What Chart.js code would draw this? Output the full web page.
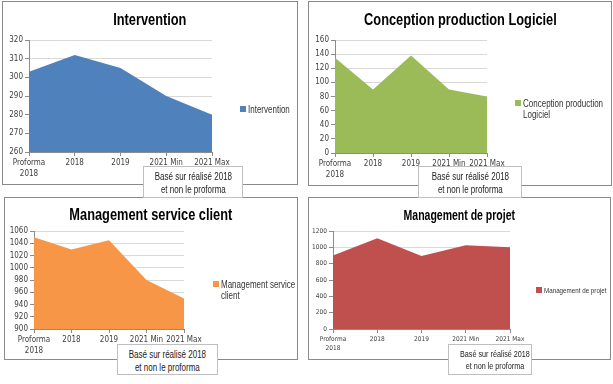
<!DOCTYPE html>
<html>
<head>
<meta charset="UTF-8">
<title>Charts</title>
<script src="https://cdn.jsdelivr.net/npm/chart.js@4/dist/chart.umd.min.js"></script>
<style>
  body {
    margin: 0;
    width: 613px;
    height: 384px;
    background: #ffffff;
    position: relative;
    overflow: hidden;
    font-family: 'Liberation Sans', Arial, sans-serif;
    color: #404040;
  }
  .panel {
    position: absolute;
    border: 1px solid #8a8a8a;
    background: #ffffff;
  }
  .panel canvas {
    position: absolute;
  }
  .title {
    position: absolute;
    left: 0;
    right: 0;
    text-align: center;
    font-weight: bold;
    color: #000000;
    white-space: nowrap;
  }
  .title span {
    display: inline-block;
    transform: scaleX(0.8);
  }
  .legend {
    position: absolute;
    font-size: 10px;
    line-height: 11px;
    color: #333333;
    white-space: nowrap;
  }
  .legend .box {
    position: absolute;
    left: 0;
    top: 2px;
    width: 6px;
    height: 6px;
  }
  .legend .txt {
    margin-left: 8px;
    transform: scaleX(0.8);
    transform-origin: left top;
  }
  .note {
    position: absolute;
    border: 1px solid #bfbfbf;
    background: #ffffff;
    font-size: 10px;
    line-height: 13px;
    text-align: center;
    color: #222222;
    padding-top: 3px;
    box-sizing: border-box;
    white-space: nowrap;
  }
  .note span {
    display: inline-block;
    transform: scaleX(0.8);
  }
</style>
</head>
<body>

<div class="panel" style="left:2px;top:1px;width:294px;height:182px;">
  <canvas id="chart1"></canvas>
  <div class="title" style="top:9px;font-size:16px;"><span>Intervention</span></div>
  <div class="legend" style="left:237px;top:102px;"><div class="box" style="background:#4F81BD"></div><div class="txt">Intervention</div></div>
</div>

<div class="panel" style="left:308px;top:1px;width:302px;height:183px;">
  <canvas id="chart2"></canvas>
  <div class="title" style="top:9px;font-size:16px;"><span>Conception production Logiciel</span></div>
  <div class="legend" style="left:206px;top:96px;"><div class="box" style="background:#9BBB59"></div><div class="txt">Conception production<br>Logiciel</div></div>
</div>

<div class="panel" style="left:4px;top:197px;width:292px;height:161px;">
  <canvas id="chart3"></canvas>
  <div class="title" style="top:8px;font-size:16px;"><span>Management service client</span></div>
  <div class="legend" style="left:208px;top:81px;"><div class="box" style="background:#F79646"></div><div class="txt">Management service<br>client</div></div>
</div>

<div class="panel" style="left:308px;top:197px;width:301px;height:161px;">
  <canvas id="chart4"></canvas>
  <div class="title" style="top:9px;font-size:14px;"><span style="transform:scaleX(0.75)">Management de projet</span></div>
  <div class="legend" style="left:227px;top:88px;font-size:8px;line-height:9px;"><div class="box" style="background:#C0504D;top:1px;"></div><div class="txt" style="transform:scaleX(0.78)">Management de projet</div></div>
</div>

<div class="note" style="left:143px;top:166px;width:100px;height:32px;"><span>Basé sur réalisé 2018<br>et non le proforma</span></div>
<div class="note" style="left:418px;top:166px;width:104px;height:32px;"><span>Basé sur réalisé 2018<br>et non le proforma</span></div>
<div class="note" style="left:117px;top:344px;width:101px;height:31px;"><span>Basé sur réalisé 2018<br>et non le proforma</span></div>
<div class="note" style="left:448px;top:344px;width:84px;height:31px;font-size:9.5px;line-height:12px;"><span style="transform:scaleX(0.76)">Basé sur réalisé 2018<br>et non le proforma</span></div>

<script>
const FONT_FAMILY = "'DejaVu Sans Condensed', 'DejaVu Sans', sans-serif";

const categories = [['Proforma', '2018'], '2018', '2019', '2021 Min', '2021 Max'];

const interventionValues = [303, 312, 305, 290, 280];
const conceptionValues = [135, 90, 138, 90, 80];
const serviceClientValues = [1050, 1030, 1045, 980, 950];
const projetValues = [900, 1110, 895, 1025, 1000];

// box: canvas place inside the panel, yw/xh = axis sizes, top/right = padding around plot
function makeChart(id, label, values, color, yMin, yMax, yStep, box, tickSize) {
  let cv = document.getElementById(id);
  cv.width = box.w;
  cv.height = box.h;
  cv.style.left = box.x + 'px';
  cv.style.top = box.y + 'px';
  cv.style.width = box.w + 'px';
  cv.style.height = box.h + 'px';
  return new Chart(cv, {
    type: 'line',
    data: {
      labels: categories,
      datasets: [{
        label: label,
        data: values,
        backgroundColor: color,
        borderWidth: 0,
        pointRadius: 0,
        fill: 'start',
        tension: 0,
      }],
    },
    options: {
      responsive: false,
      animation: false,
      devicePixelRatio: 1,
      layout: {
        padding: { left: 0, right: box.right, top: box.top, bottom: 0 }
      },
      plugins: {
        legend: { display: false },
        title: { display: false },
        tooltip: { enabled: false },
      },
      scales: {
        x: {
          offset: false,
          grid: {
            drawOnChartArea: false,
            drawTicks: true,
            tickLength: 4,
            color: '#8c8c8c',
          },
          border: { color: '#8c8c8c' },
          ticks: {
            color: '#404040',
            padding: 2,
            maxRotation: 0,
            autoSkip: false,
            font: { family: FONT_FAMILY, size: tickSize, lineHeight: 1.35 },
          },
          afterFit: function(scale) { scale.height = box.xh; },
        },
        y: {
          min: yMin,
          max: yMax,
          grid: {
            color: '#d9d9d9',
            tickColor: '#8c8c8c',
            tickLength: 4,
          },
          border: { color: '#8c8c8c' },
          ticks: {
            stepSize: yStep,
            autoSkip: false,
            color: '#404040',
            padding: 2,
            font: { family: FONT_FAMILY, size: tickSize },
            callback: function(v) { return String(v); },
          },
          afterFit: function(scale) { scale.width = box.yw; },
        },
      },
    },
  });
}

makeChart('chart1', 'Intervention', interventionValues, '#4F81BD', 260, 320, 10,
  { x: 1, y: 1, w: 292, h: 180, yw: 25, xh: 31, top: 37, right: 84 }, 8);

makeChart('chart2', 'Conception production Logiciel', conceptionValues, '#9BBB59', 0, 160, 20,
  { x: 0, y: 1, w: 301, h: 181, yw: 26, xh: 31, top: 37, right: 123 }, 8);

makeChart('chart3', 'Management service client', serviceClientValues, '#F79646', 900, 1060, 20,
  { x: 0, y: 1, w: 291, h: 159, yw: 29, xh: 29, top: 32, right: 112 }, 8);

makeChart('chart4', 'Management de projet', projetValues, '#C0504D', 0, 1200, 200,
  { x: 0, y: 1, w: 300, h: 159, yw: 24, xh: 29, top: 32, right: 99 }, 6.5);
</script>
</body>
</html>
